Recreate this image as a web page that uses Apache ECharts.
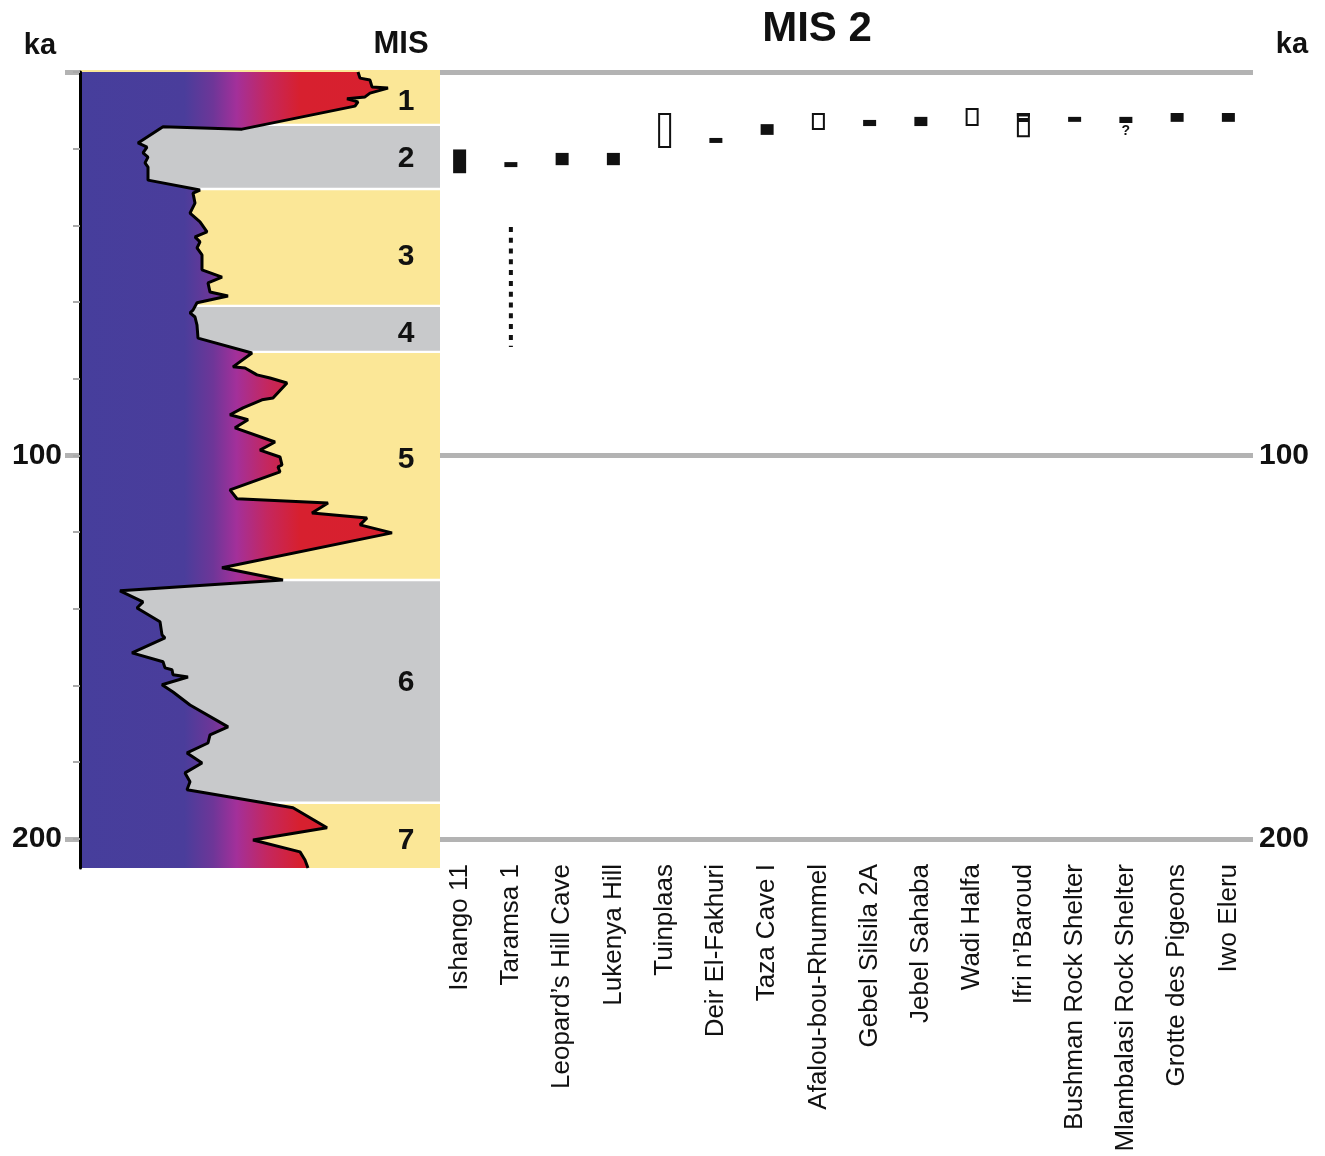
<!DOCTYPE html>
<html><head><meta charset="utf-8">
<script src="https://cdn.jsdelivr.net/npm/echarts@6/dist/echarts.min.js"></script>
<style>html,body{margin:0;padding:0;background:#fff}#c{width:1325px;height:1156px}</style>
</head><body><div id="c"></div>
<script>
// ---------- data ----------
const KA_MAX = 207.6;
const gridKa = [0, 100, 200];
const kaLabels = [100, 200];
const leftTickKa = [0, 20, 40, 60, 80, 100, 120, 140, 160, 180, 200];

const sites = ['Ishango 11', 'Taramsa 1', 'Leopard\u2019s Hill Cave', 'Lukenya Hill', 'Tuinplaas',
  'Deir El-Fakhuri', 'Taza Cave I', 'Afalou-bou-Rhummel', 'Gebel Silsila 2A', 'Jebel Sahaba',
  'Wadi Halfa', 'Ifri n\u2019Baroud', 'Bushman Rock Shelter', 'Mlambalasi Rock Shelter',
  'Grotte des Pigeons', 'Iwo Eleru'];

// [site index, start ka, end ka, filled (1) / open (0)]
const ageRanges = [
  [0, 20.2, 26.4, 1],
  [1, 23.5, 24.8, 1],
  [2, 21.1, 24.3, 1],
  [3, 21.1, 24.3, 1],
  [4, 10.7, 19.8, 0],
  [5, 17.2, 18.5, 1],
  [6, 13.6, 16.4, 1],
  [7, 10.7, 15.1, 0],
  [8, 12.5, 14.1, 1],
  [9, 11.7, 14.1, 1],
  [10, 9.4, 14.1, 0],
  [11, 10.7, 12.5, 0],
  [11, 12.5, 17.0, 0],
  [11, 10.7, 11.6, 1],
  [12, 11.7, 13.0, 1],
  [13, 11.7, 13.3, 1],
  [14, 10.7, 13.0, 1],
  [15, 10.7, 13.0, 1]
];
// dotted extension [site index, start ka, end ka]
const dottedRanges = [[1, 40.4, 71.7]];
// notes [site index, ka, text]
const notes = [[13, 15.4, '?']];

const misNames = ['1', '2', '3', '4', '5', '6', '7'];
const misBounds = [0, 13.8, 30.5, 61.0, 73.0, 132.5, 190.6, 207.6];
const misLabelKa = [7.6, 22.4, 48.0, 68.1, 100.9, 159.1, 200.3];

// climate curve [relative value (0-360), ka]
const curve = [
  [278, 0], [280, 1.6], [290, 2.1], [292, 3.9], [308, 4.2], [290, 5.5], [285, 6.5], [267, 7.0],
  [278, 7.8], [275, 8.9], [162, 14.9], [83, 14.3], [58, 18.5], [67, 19.6], [63, 21.1], [68, 22.2],
  [65, 23.7], [68, 24.8], [68, 28.2], [120, 30.8], [113, 31.6], [115, 34.2], [110, 36.8], [120, 39.1],
  [127, 41.7], [115, 43.0], [120, 44.3], [117, 45.9], [122, 47.7], [122, 51.6], [142, 53.5], [128, 55.0],
  [130, 57.4], [148, 58.4], [117, 60.2], [113, 62.1], [110, 62.8], [115, 63.9], [117, 66.0], [118, 69.4],
  [172, 73.3], [153, 76.9], [165, 77.2], [177, 79.0], [190, 79.8], [207, 81.1], [193, 85.0], [182, 85.5],
  [163, 87.6], [150, 89.4], [168, 90.7], [155, 92.8], [195, 96.5], [180, 98.6], [200, 100.4], [202, 102.5],
  [198, 103.0], [200, 104.3], [150, 109.0], [157, 111.3], [248, 112.4], [232, 115.0], [287, 116.3], [280, 118.1],
  [312, 120.2], [142, 129.3], [203, 132.5], [40, 135.3], [63, 138.2], [57, 139.8], [80, 143.4], [82, 146.8],
  [85, 147.6], [52, 151.5], [83, 153.8], [85, 155.4], [92, 155.9], [93, 157.2], [108, 157.8], [82, 159.8],
  [93, 161.7], [110, 165.1], [148, 170.8], [130, 172.9], [128, 175.0], [107, 177.6], [122, 180.2], [105, 182.8],
  [110, 185.1], [107, 187.2], [213, 191.9], [247, 197.1], [173, 200.3], [220, 203.4], [225, 205.5], [228, 207.6]
];
const CURVE_MAX = 360;

// ---------- styles ----------
const FONT = '"Liberation Sans", Arial, Helvetica, sans-serif';
const YELLOW = '#fbe797';
const GRAY = '#c8c9cb';
const GRID_GRAY = '#b3b3b3';
const INK = '#111111';

const chart = echarts.init(document.getElementById('c'));

const option = {
  animation: false,
  backgroundColor: '#ffffff',
  grid: [
    { left: 65, right: 72, top: 72, bottom: 288 },   // background lines
    { left: 434, right: 71, top: 72, bottom: 288 },  // sites
    { left: 80, width: 360, top: 72, bottom: 288 }   // climate curve
  ],
  xAxis: [
    { gridIndex: 0, type: 'value', show: false, min: 0, max: 1 },
    {
      gridIndex: 1, type: 'category', data: sites,
      axisLine: { show: false }, axisTick: { show: false },
      axisLabel: { rotate: 90, interval: 0, margin: -4, fontSize: 26, color: INK, fontFamily: FONT }
    },
    { gridIndex: 2, type: 'value', show: false, min: 0, max: CURVE_MAX }
  ],
  yAxis: [
    {
      gridIndex: 0, type: 'value', inverse: true, min: 0, max: KA_MAX, interval: 100, position: 'right',
      axisLine: { show: false }, axisTick: { show: false },
      axisLabel: { customValues: kaLabels, margin: 6, fontSize: 30, fontWeight: 'bold', color: INK, fontFamily: FONT },
      splitLine: { show: true, showMaxLine: false, lineStyle: { color: GRID_GRAY, width: 5 } }
    },
    {
      gridIndex: 0, type: 'value', inverse: true, min: 0, max: KA_MAX, interval: 100, position: 'left',
      axisLine: { show: false }, axisTick: { show: false },
      axisLabel: { customValues: kaLabels, margin: 3, fontSize: 30, fontWeight: 'bold', color: INK, fontFamily: FONT },
      splitLine: { show: false }
    },
    { gridIndex: 1, type: 'value', inverse: true, min: 0, max: KA_MAX, show: false },
    {
      gridIndex: 2, type: 'value', inverse: true, min: 0, max: KA_MAX, interval: 20, position: 'left', z: 6,
      axisLine: { show: true, lineStyle: { color: '#000', width: 3 } },
      axisTick: { show: true, customValues: leftTickKa, length: 7, lineStyle: { color: '#a9a9a9', width: 2 } },
      axisLabel: { show: false },
      splitLine: { show: false }
    }
  ],
  graphic: [
    { type: 'text', x: 40, y: 46, style: { text: 'ka', align: 'center', verticalAlign: 'middle', fontSize: 29, fontWeight: 'bold', fontFamily: FONT, fill: INK } },
    { type: 'text', x: 1292, y: 45, style: { text: 'ka', align: 'center', verticalAlign: 'middle', fontSize: 29, fontWeight: 'bold', fontFamily: FONT, fill: INK } },
    { type: 'text', x: 401, y: 44, style: { text: 'MIS', align: 'center', verticalAlign: 'middle', fontSize: 31, fontWeight: 'bold', fontFamily: FONT, fill: INK } },
    { type: 'text', x: 817, y: 29, style: { text: 'MIS 2', align: 'center', verticalAlign: 'middle', fontSize: 42, fontWeight: 'bold', fontFamily: FONT, fill: INK } }
  ],
  series: [
    // MIS bands
    {
      type: 'custom', xAxisIndex: 2, yAxisIndex: 3, z: 2, clip: false,
      data: misNames.map((n, i) => [i, misBounds[i]]),
      renderItem: function (params, api) {
        const i = api.value(0);
        const y0 = api.coord([0, misBounds[i]])[1];
        const y1 = api.coord([0, misBounds[i + 1]])[1];
        const x0 = api.coord([0, 0])[0];
        const x1 = api.coord([CURVE_MAX, 0])[0];
        const top = i === 0 ? y0 - 2 : y0 + 1.2;
        const bot = i === misNames.length - 1 ? y1 : y1 - 1.2;
        const ly = api.coord([0, misLabelKa[i]])[1];
        return {
          type: 'group',
          children: [
            { type: 'rect', shape: { x: x0, y: top, width: x1 - x0, height: bot - top },
              style: { fill: i % 2 === 0 ? YELLOW : GRAY } },
            { type: 'text', x: x1 - 34, y: ly + 1,
              style: { text: misNames[i], align: 'center', verticalAlign: 'middle', fontSize: 30, fontWeight: 'bold', fontFamily: FONT, fill: INK } }
          ]
        };
      }
    },
    // curve fill (gradient)
    {
      type: 'custom', xAxisIndex: 2, yAxisIndex: 3, z: 3, clip: false,
      data: [[0, 0]],
      renderItem: function (params, api) {
        const pts = [api.coord([0, curve[0][1]])];
        curve.forEach(p => pts.push(api.coord(p)));
        pts.push(api.coord([0, curve[curve.length - 1][1]]));
        const gx0 = api.coord([0, 0])[0];
        const gx1 = api.coord([CURVE_MAX, 0])[0];
        return {
          type: 'polygon',
          shape: { points: pts },
          style: {
            fill: {
              type: 'linear', global: true, x: gx0, y: 0, x2: gx1, y2: 0,
              colorStops: [
                { offset: 0, color: '#463e9c' },
                { offset: 0.29, color: '#4a3d9b' },
                { offset: 0.37, color: '#6e3698' },
                { offset: 0.435, color: '#a3309a' },
                { offset: 0.52, color: '#c4275f' },
                { offset: 0.61, color: '#d7202f' },
                { offset: 1, color: '#d8202e' }
              ]
            }
          }
        };
      }
    },
    // curve outline
    {
      type: 'line', xAxisIndex: 2, yAxisIndex: 3, z: 4, data: curve, symbol: 'none',
      lineStyle: { color: '#000', width: 3 }, silent: true
    },
    // site age ranges
    {
      type: 'custom', xAxisIndex: 1, yAxisIndex: 2, z: 4, clip: false,
      data: ageRanges,
      renderItem: function (params, api) {
        const c = api.value(0), s = api.value(1), e = api.value(2), f = api.value(3);
        const p0 = api.coord([c, s]);
        const p1 = api.coord([c, e]);
        const w = 13;
        if (f) {
          return { type: 'rect', shape: { x: p0[0] - w / 2, y: p0[1], width: w, height: p1[1] - p0[1] },
            style: { fill: INK } };
        }
        return { type: 'rect', shape: { x: p0[0] - w / 2 + 1, y: p0[1] + 1, width: w - 2, height: p1[1] - p0[1] - 2 },
          style: { fill: '#fff', stroke: INK, lineWidth: 2 } };
      }
    },
    // dotted extension
    {
      type: 'custom', xAxisIndex: 1, yAxisIndex: 2, z: 4, clip: false,
      data: dottedRanges,
      renderItem: function (params, api) {
        const p0 = api.coord([api.value(0), api.value(1)]);
        const p1 = api.coord([api.value(0), api.value(2)]);
        return { type: 'line', shape: { x1: p0[0], y1: p0[1], x2: p1[0], y2: p1[1] },
          style: { stroke: INK, lineWidth: 4, lineDash: [5, 5.8] } };
      }
    },
    // notes
    {
      type: 'custom', xAxisIndex: 1, yAxisIndex: 2, z: 4, clip: false,
      data: notes.map(n => [n[0], n[1]]),
      renderItem: function (params, api) {
        const p = api.coord([api.value(0), api.value(1)]);
        return { type: 'text', x: p[0], y: p[1],
          style: { text: notes[params.dataIndex][2], align: 'center', verticalAlign: 'middle', fontSize: 14, fontWeight: 'bold', fontFamily: FONT, fill: INK } };
      }
    }
  ]
};
chart.setOption(option);
</script>
</body></html>
